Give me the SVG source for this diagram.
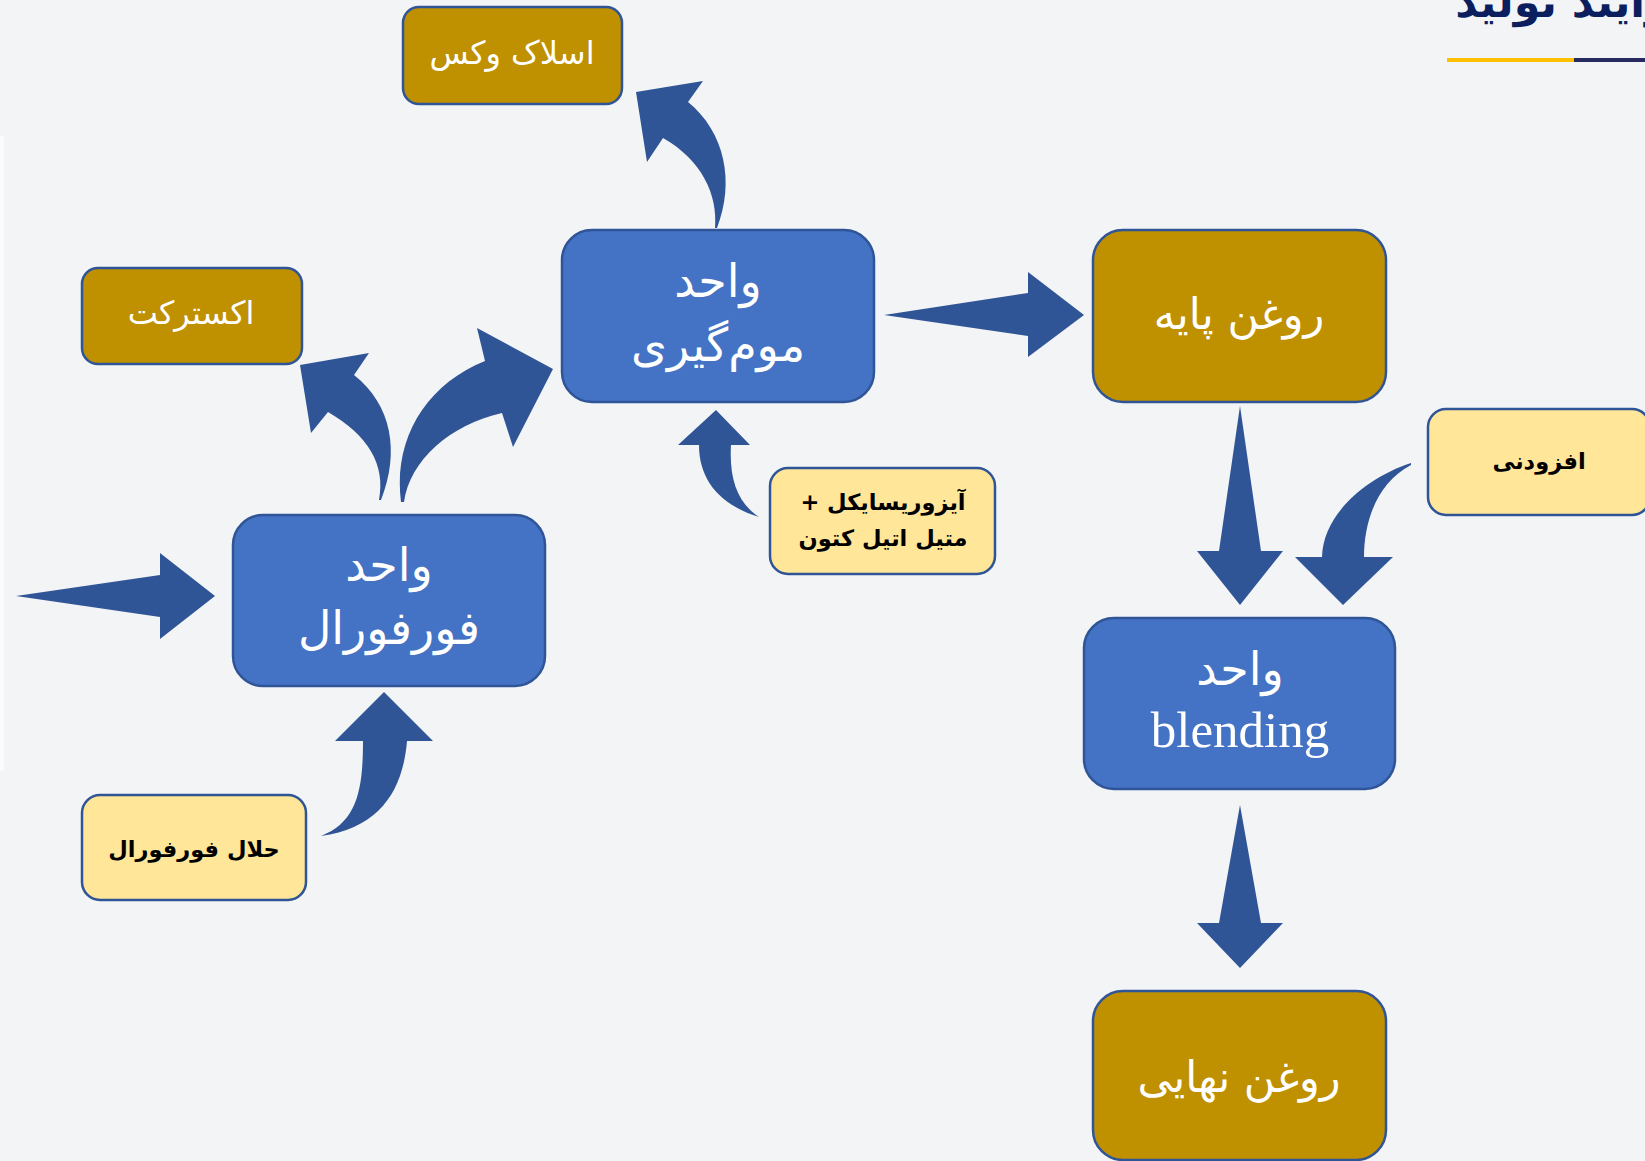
<svg xmlns="http://www.w3.org/2000/svg" width="1645" height="1161" viewBox="0 0 1645 1161">
<style>
.bg{fill:#f3f4f6}
.unit{fill:#4472c4;stroke:#2f5597;stroke-width:2.5}
.prod{fill:#bf9000;stroke:#2f5597;stroke-width:2.5}
.feed{fill:#ffe699;stroke:#2f5597;stroke-width:2.5}
.arrow{fill:#2f5597;stroke:none}
.tw{fill:#ffffff;font-family:"DejaVu Sans",sans-serif;text-anchor:middle}
.tb{fill:#000000;font-family:"DejaVu Sans",sans-serif;font-weight:bold;text-anchor:middle}
.big{font-size:46px}
.gold{font-size:43px}
.mid{font-size:32px}
.sm{font-size:22.5px}
.title{fill:#0b1f5e;font-family:"DejaVu Sans",sans-serif;font-weight:bold;font-size:43px}
</style>
<rect class="bg" x="0" y="0" width="1645" height="1161"/>
<rect x="0" y="136" width="4" height="635" fill="#fbfbfc"/>
<g id="title">
<text class="title" x="1700" y="17" text-anchor="end">فرآیند تولید</text>
<rect x="1447" y="58" width="127" height="4" fill="#ffc000"/>
<rect x="1574" y="58" width="71" height="4" fill="#262a5e"/>
</g>
<g id="connectors">
<path class="arrow" d="M16,596 L160,575 L160,553 L215,596 L160,639 L160,617 Z"/>
<path class="arrow" d="M884,315 L1028,293 L1028,272 L1084,315 L1028,357 L1028,336 Z"/>
<path class="arrow" d="M1240,406 L1261,551 L1283,551 L1240,605 L1197,551 L1219,551 Z"/>
<path class="arrow" d="M1240,805 L1261,923 L1283,923 L1240,968 L1197,923 L1219,923 Z"/>
<path class="arrow" d="M1411,463 C1365,478 1323,515 1322,557 L1295,557 L1343,605 L1393,557 L1364,557 C1364,520 1378,482 1411,465 Z"/>
<path class="arrow" d="M321,836 C357,822 363,790 363,741 L335,741 L384,692 L433,741 L407,741 C403,790 380,828 321,836 Z"/>
<path class="arrow" d="M759,517 C720,505 699,480 699,445 L678,445 L716,410 L750,445 L731,445 C729,480 738,503 759,517 Z"/>
<path class="arrow" d="M715,228 C718,195 702,160 663,138 L647,162 L636,92 L703,81 L688,102 C725,132 735,182 717,228 Z"/>
<path class="arrow" d="M379,500 C386,465 368,435 328,412 L311,433 L300,365 L369,353 L354,375 C392,405 400,452 381,500 Z"/>
<path class="arrow" d="M401,502 C393,440 425,385 485,361 L477,328 L553,369 L513,447 L502,413 C450,425 410,460 404,502 Z"/>
</g>
<g id="node-slack-wax">
<rect class="prod" x="403" y="7" width="219" height="97" rx="16"/>
<text class="tw mid" x="512" y="64" direction="rtl">اسلاک وکس</text>
</g>
<g id="node-extract">
<rect class="prod" x="82" y="268" width="220" height="96" rx="16"/>
<text class="tw mid" x="191" y="324" direction="rtl">اکسترکت</text>
</g>
<g id="node-dewaxing">
<rect class="unit" x="562" y="230" width="312" height="172" rx="30"/>
<text class="tw big" x="718" y="297" direction="rtl">واحد</text>
<text class="tw big" x="718" y="361" direction="rtl">موم‌گیری</text>
</g>
<g id="node-base-oil">
<rect class="prod" x="1093" y="230" width="293" height="172" rx="30"/>
<text class="tw gold" x="1239" y="329" direction="rtl">روغن پایه</text>
</g>
<g id="node-additive">
<rect class="feed" x="1428" y="409" width="222" height="106" rx="18"/>
<text class="tb sm" x="1539" y="469" direction="rtl">افزودنی</text>
</g>
<g id="node-solvent-mek">
<rect class="feed" x="770" y="468" width="225" height="106" rx="18"/>
<text class="tb sm" x="883" y="510" direction="rtl">آیزوریسایکل +</text>
<text class="tb sm" x="883" y="546" direction="rtl">متیل اتیل کتون</text>
</g>
<g id="node-furfural-unit">
<rect class="unit" x="233" y="515" width="312" height="171" rx="30"/>
<text class="tw big" x="389" y="581" direction="rtl">واحد</text>
<text class="tw big" x="389" y="644" direction="rtl">فورفورال</text>
</g>
<g id="node-furfural-solvent">
<rect class="feed" x="82" y="795" width="224" height="105" rx="18"/>
<text class="tb sm" x="194" y="857" direction="rtl">حلال فورفورال</text>
</g>
<g id="node-blending">
<rect class="unit" x="1084" y="618" width="311" height="171" rx="30"/>
<text class="tw big" x="1240" y="685" direction="rtl">واحد</text>
<text x="1240" y="747" fill="#ffffff" font-family="Liberation Serif, serif" font-size="51" text-anchor="middle">blending</text>
</g>
<g id="node-final-oil">
<rect class="prod" x="1093" y="991" width="293" height="169" rx="30"/>
<text class="tw gold" x="1239" y="1092" direction="rtl">روغن نهایی</text>
</g>
</svg>
